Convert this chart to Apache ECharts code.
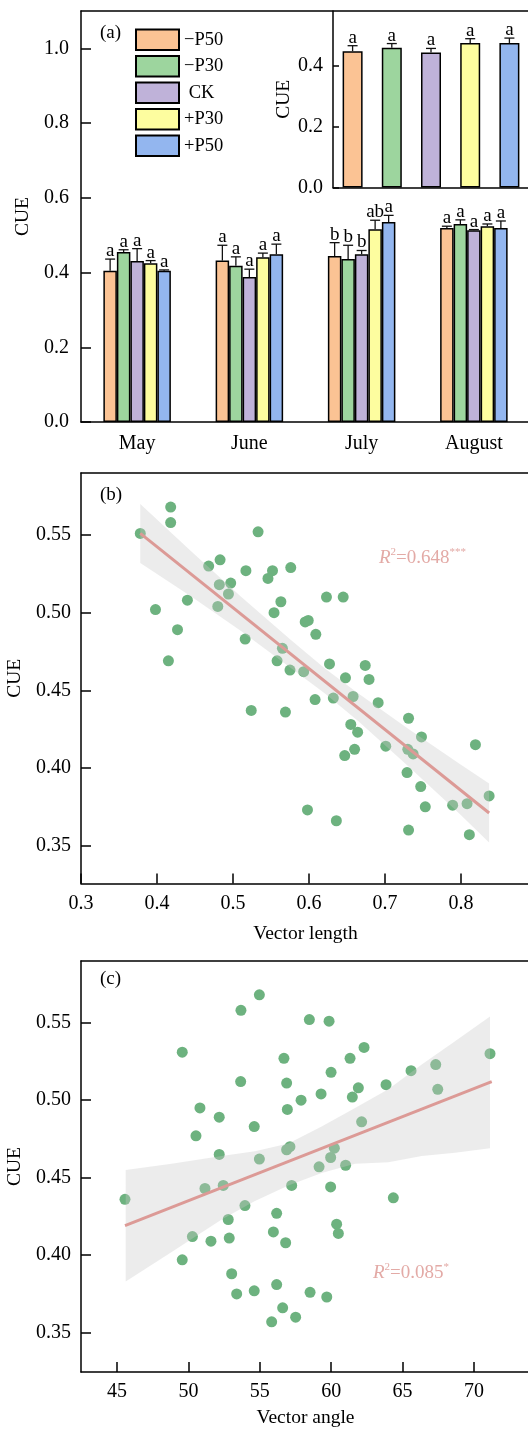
<!DOCTYPE html>
<html>
<head>
<meta charset="utf-8">
<title>CUE</title>
<script src="https://cdn.jsdelivr.net/npm/echarts@6.0.0/dist/echarts.min.js"></script>
<style>
    html, body { margin: 0; padding: 0; background: #fff; }
    #main { width: 528px; height: 1430px; }
</style>
</head>
<body>
<div id="main"></div>
<script>
// ---- panel (a): monthly CUE by treatment ----
var months = ['May', 'June', 'July', 'August'];
var treatments = ['\u2212P50', '\u2212P30', ' CK', '+P30', '+P50'];
var colors = ['#fbc394', '#9dd59e', '#bfb2d9', '#fdfd9f', '#93b6ef'];
// one row per treatment, one column per month
var cueMean = [
    [0.405, 0.432, 0.444, 0.519],
    [0.455, 0.418, 0.436, 0.530],
    [0.431, 0.388, 0.449, 0.513],
    [0.425, 0.441, 0.516, 0.524],
    [0.405, 0.449, 0.535, 0.519]
];
var cueSE = [
    [0.031, 0.041, 0.036, 0.005],
    [0.006, 0.024, 0.037, 0.011],
    [0.033, 0.021, 0.010, 0.002],
    [0.007, 0.011, 0.024, 0.006],
    [0.002, 0.027, 0.018, 0.019]
];
var letters = [
    ['a', 'a', 'b', 'a'],
    ['a', 'a', 'b', 'a'],
    ['a', 'a', 'b', 'a'],
    ['a', 'a', 'ab', 'a'],
    ['a', 'a', 'a', 'a']
];
var yTicksA = [0, 0.2, 0.4, 0.6, 0.8, 1.0];
// inset: whole season
var insetMean = [0.448, 0.459, 0.444, 0.475, 0.475];
var insetSE = [0.018, 0.014, 0.013, 0.014, 0.016];
var insetLetters = ['a', 'a', 'a', 'a', 'a'];
var yTicksInset = [0, 0.2, 0.4];

// ---- panel (b): CUE vs vector length ----
var lengthB = [0.378, 0.418, 0.418, 0.533, 0.468, 0.483, 0.517, 0.552, 0.546, 0.576,
    0.482, 0.497, 0.494, 0.440, 0.398, 0.480, 0.563, 0.554, 0.623, 0.645,
    0.427, 0.595, 0.599, 0.609, 0.516, 0.565, 0.415, 0.558, 0.575, 0.593,
    0.627, 0.648, 0.674, 0.679, 0.608, 0.632, 0.658, 0.691, 0.524, 0.569,
    0.731, 0.655, 0.664, 0.748, 0.701, 0.819, 0.730, 0.737, 0.660, 0.647,
    0.729, 0.747, 0.753, 0.789, 0.808, 0.837, 0.598, 0.636, 0.731, 0.811];
var cueB = [0.551, 0.568, 0.558, 0.552, 0.530, 0.534, 0.527, 0.527, 0.522, 0.529,
    0.518, 0.519, 0.512, 0.508, 0.502, 0.504, 0.507, 0.500, 0.510, 0.510,
    0.489, 0.494, 0.495, 0.486, 0.483, 0.477, 0.469, 0.469, 0.463, 0.462,
    0.467, 0.458, 0.466, 0.457, 0.444, 0.445, 0.446, 0.442, 0.437, 0.436,
    0.432, 0.428, 0.423, 0.420, 0.414, 0.415, 0.412, 0.409, 0.412, 0.408,
    0.397, 0.388, 0.375, 0.376, 0.377, 0.382, 0.373, 0.366, 0.360, 0.357];
var fitB = [[0.378, 0.551], [0.837, 0.371]];
var bandBx = [0.378, 0.446, 0.511, 0.577, 0.621, 0.665, 0.731, 0.797, 0.837];
var bandBlo = [0.532, 0.510, 0.488, 0.464, 0.448, 0.430, 0.401, 0.371, 0.352];
var bandBhi = [0.570, 0.539, 0.510, 0.482, 0.464, 0.448, 0.425, 0.403, 0.390];
var xTicksB = [0.3, 0.4, 0.5, 0.6, 0.7, 0.8];
var yTicksBC = [0.35, 0.40, 0.45, 0.50, 0.55];

// ---- panel (c): CUE vs vector angle ----
var angleC = [54.97, 53.68, 58.47, 59.85, 49.57, 56.69, 62.30, 61.32, 59.99, 71.12,
    67.32, 65.59, 67.46, 63.84, 61.90, 61.48, 59.29, 57.89, 56.88, 53.66,
    56.93, 50.81, 52.16, 54.61, 50.53, 62.13, 52.16, 54.97, 56.88, 57.11,
    60.22, 59.96, 59.15, 61.01, 51.16, 52.44, 57.23, 59.96, 45.56, 64.35,
    53.96, 56.18, 52.79, 60.38, 60.50, 55.95, 50.28, 51.58, 52.86, 56.81,
    49.57, 53.03, 53.38, 54.61, 56.18, 58.52, 59.69, 56.60, 57.51, 55.83];
var cueC = [0.568, 0.558, 0.552, 0.551, 0.531, 0.527, 0.534, 0.527, 0.518, 0.530,
    0.523, 0.519, 0.507, 0.510, 0.508, 0.502, 0.504, 0.500, 0.511, 0.512,
    0.494, 0.495, 0.489, 0.483, 0.477, 0.486, 0.465, 0.462, 0.468, 0.470,
    0.469, 0.463, 0.457, 0.458, 0.443, 0.445, 0.445, 0.444, 0.436, 0.437,
    0.432, 0.427, 0.423, 0.420, 0.414, 0.415, 0.412, 0.409, 0.411, 0.408,
    0.397, 0.388, 0.375, 0.377, 0.381, 0.376, 0.373, 0.366, 0.360, 0.357];
var fitC = [[45.56, 0.419], [71.24, 0.512]];
var bandCx = [45.61, 48.83, 52.33, 54.66, 57.00, 59.33, 61.67, 64.00, 66.34, 68.67, 71.12];
var bandClo = [0.383, 0.402, 0.423, 0.435, 0.445, 0.453, 0.459, 0.460, 0.464, 0.466, 0.469];
var bandChi = [0.455, 0.459, 0.464, 0.467, 0.472, 0.483, 0.495, 0.507, 0.523, 0.538, 0.554];
var xTicksC = [45, 50, 55, 60, 65, 70];

var F = '"Liberation Serif", "Times New Roman", serif';
var BW = 13.5;   // bar width panel (a)
var CAP = 5;
var PINK = '#e3aaa6';

var chart = echarts.init(document.getElementById('main'));

function axisBase(extra) {
    var o = {
        axisLine: { show: true, onZero: false, lineStyle: { color: '#000', width: 1.5 } },
        axisTick: { show: true, inside: true, length: 10, lineStyle: { color: '#000', width: 1.5 } },
        axisLabel: { color: '#000', fontFamily: F, fontSize: 20, margin: 10 },
        splitLine: { show: false },
        nameTextStyle: { color: '#000', fontFamily: F, fontSize: 19.5 }
    };
    for (var k in extra) o[k] = extra[k];
    return o;
}
function topLine(extra) {
    var o = {
        position: 'top',
        axisLine: { show: true, onZero: false, lineStyle: { color: '#000', width: 1.5 } },
        axisTick: { show: false }, axisLabel: { show: false }, splitLine: { show: false }
    };
    for (var k in extra) o[k] = extra[k];
    return o;
}
function fmt(d) { return function (v) { return v.toFixed(d); }; }

// error bar + letter for one bar
function errItem(x, b, c, txt) {
    return {
        type: 'group',
        children: [
            { type: 'line', shape: { x1: x, y1: b, x2: x, y2: c }, style: { stroke: '#111', lineWidth: 1.3 } },
            { type: 'line', shape: { x1: x - CAP, y1: c, x2: x + CAP, y2: c }, style: { stroke: '#111', lineWidth: 1.3 } },
            { type: 'text', x: x, y: c + 1.5, style: { text: txt, fill: '#000', font: '19px ' + F, align: 'center', verticalAlign: 'bottom' } }
        ]
    };
}
function makeErr(i) {
    return function (params, api) {
        var b = api.coord([api.value(0), api.value(1)]);
        var c = api.coord([api.value(0), api.value(2)]);
        return errItem(b[0] + (i - 2) * BW, b[1], c[1], letters[i][params.dataIndex]);
    };
}
function makeBand(xs, lo, hi) {
    return function (params, api) {
        if (params.dataIndex !== 0) return;
        var pts = [];
        for (var k = 0; k < xs.length; k++) pts.push(api.coord([xs[k], hi[k]]));
        for (var k = xs.length - 1; k >= 0; k--) pts.push(api.coord([xs[k], lo[k]]));
        return { type: 'polygon', shape: { points: pts }, style: { fill: 'rgba(200,200,200,0.35)' } };
    };
}

var series = [];
treatments.forEach(function (name, i) {
    series.push({
        type: 'bar', name: name, xAxisIndex: 0, yAxisIndex: 0,
        data: cueMean[i], barWidth: BW, barGap: '0%',
        itemStyle: { color: colors[i], borderColor: '#000', borderWidth: 1.5 }
    });
});
treatments.forEach(function (name, i) {
    series.push({
        type: 'custom', name: 'err' + i, xAxisIndex: 0, yAxisIndex: 0, z: 5, silent: true,
        encode: { x: 0, y: [1, 2] },
        data: months.map(function (m, j) { return [j, cueMean[i][j], cueMean[i][j] + cueSE[i][j]]; }),
        renderItem: makeErr(i)
    });
});
series.push({
    type: 'bar', name: 'inset', xAxisIndex: 2, yAxisIndex: 1, barWidth: 20,
    data: insetMean.map(function (v, i) { return { value: v, itemStyle: { color: colors[i] } }; }),
    itemStyle: { borderColor: '#000', borderWidth: 1.5 }
});
series.push({
    type: 'custom', name: 'insetErr', xAxisIndex: 2, yAxisIndex: 1, z: 5, silent: true,
    encode: { x: 0, y: [1, 2] },
    data: insetMean.map(function (v, i) { return [i, v, v + insetSE[i]]; }),
    renderItem: function (params, api) {
        var b = api.coord([api.value(0), api.value(1)]);
        var c = api.coord([api.value(0), api.value(2)]);
        return errItem(b[0], b[1], c[1], insetLetters[params.dataIndex]);
    }
});

// panel (b)
series.push({
    type: 'scatter', xAxisIndex: 3, yAxisIndex: 2, z: 2, symbolSize: 11,
    itemStyle: { color: '#6db27f', opacity: 1 },
    data: lengthB.map(function (x, k) { return [x, cueB[k]]; })
});
series.push({
    type: 'custom', xAxisIndex: 3, yAxisIndex: 2, z: 3, silent: true, clip: true,
    data: bandBx.map(function (x, k) { return [x, bandBlo[k], bandBhi[k]]; }),
    renderItem: makeBand(bandBx, bandBlo, bandBhi)
});
series.push({
    type: 'line', xAxisIndex: 3, yAxisIndex: 2, z: 4, symbol: 'none', silent: true,
    lineStyle: { color: '#dc9a96', width: 3 }, data: fitB
});

// panel (c)
series.push({
    type: 'scatter', xAxisIndex: 5, yAxisIndex: 3, z: 2, symbolSize: 11,
    itemStyle: { color: '#6db27f', opacity: 1 },
    data: angleC.map(function (x, k) { return [x, cueC[k]]; })
});
series.push({
    type: 'custom', xAxisIndex: 5, yAxisIndex: 3, z: 3, silent: true, clip: true,
    data: bandCx.map(function (x, k) { return [x, bandClo[k], bandChi[k]]; }),
    renderItem: makeBand(bandCx, bandClo, bandChi)
});
series.push({
    type: 'line', xAxisIndex: 5, yAxisIndex: 3, z: 4, symbol: 'none', silent: true,
    lineStyle: { color: '#dc9a96', width: 3 }, data: fitC
});

// R2 annotations, zrender rich text uses fill
var rich = {
    r: { fontFamily: F, fontSize: 19, fontStyle: 'italic', fill: PINK, lineHeight: 22 },
    s: { fontFamily: F, fontSize: 11, fill: PINK, verticalAlign: 'top', lineHeight: 22 },
    t: { fontFamily: F, fontSize: 19, fill: PINK, lineHeight: 22 }
};

var option = {
    animation: false,
    backgroundColor: '#fff',
    grid: [
        { left: 81, top: 11, width: 449, height: 411, outerBoundsMode: 'none' },
        { left: 333, top: 11, width: 196, height: 176.5, outerBoundsMode: 'none' },
        { left: 81, top: 473, width: 449, height: 410.5, outerBoundsMode: 'none' },
        { left: 81, top: 961, width: 449, height: 411, outerBoundsMode: 'none' }
    ],
    legend: {
        data: treatments, orient: 'vertical', left: 135, top: 28.5, padding: 0,
        itemWidth: 43, itemHeight: 20.5, itemGap: 4, icon: 'rect', selectedMode: false,
        textStyle: { color: '#000', fontFamily: F, fontSize: 18.5, lineHeight: 20 }
    },
    xAxis: [
        axisBase({ type: 'category', gridIndex: 0, data: months, axisTick: { show: false },
            axisLabel: { color: '#000', fontFamily: F, fontSize: 20, margin: 12 } }),
        topLine({ type: 'category', gridIndex: 0, data: months }),
        axisBase({ type: 'category', gridIndex: 1, data: treatments, axisTick: { show: false }, axisLabel: { show: false } }),
        axisBase({ type: 'value', gridIndex: 2, min: 0.3, max: 0.8908, name: 'Vector length',
            nameLocation: 'middle', nameGap: 40,
            axisLabel: { color: '#000', fontFamily: F, fontSize: 20, margin: 10, customValues: xTicksB, formatter: fmt(1) },
            axisTick: { show: true, inside: true, length: 10, customValues: xTicksB, lineStyle: { color: '#000', width: 1.5 } } }),
        topLine({ type: 'value', gridIndex: 2, min: 0.3, max: 0.8908 }),
        axisBase({ type: 'value', gridIndex: 3, min: 42.48, max: 73.92, name: 'Vector angle',
            nameLocation: 'middle', nameGap: 36,
            axisLabel: { color: '#000', fontFamily: F, fontSize: 20, margin: 10, customValues: xTicksC, formatter: fmt(0) },
            axisTick: { show: true, inside: true, length: 10, customValues: xTicksC, lineStyle: { color: '#000', width: 1.5 } } }),
        topLine({ type: 'value', gridIndex: 3, min: 42.48, max: 73.92 })
    ],
    yAxis: [
        axisBase({ type: 'value', gridIndex: 0, min: 0, max: 1.1, name: 'CUE', nameLocation: 'middle', nameGap: 45,
            axisLabel: { color: '#000', fontFamily: F, fontSize: 20, margin: 12, customValues: yTicksA, formatter: fmt(1) },
            axisTick: { show: true, inside: true, length: 10, customValues: yTicksA, lineStyle: { color: '#000', width: 1.5 } } }),
        axisBase({ type: 'value', gridIndex: 1, min: 0, max: 0.58, name: 'CUE', nameLocation: 'middle', nameGap: 34,
            axisLabel: { color: '#000', fontFamily: F, fontSize: 20, margin: 10, customValues: yTicksInset, formatter: fmt(1) },
            axisTick: { show: true, inside: true, length: 6, customValues: yTicksInset, lineStyle: { color: '#000', width: 1.5 } } }),
        axisBase({ type: 'value', gridIndex: 2, min: 0.3256, max: 0.5899, name: 'CUE', nameLocation: 'middle', nameGap: 53,
            axisLabel: { color: '#000', fontFamily: F, fontSize: 20, margin: 10, customValues: yTicksBC, formatter: fmt(2) },
            axisTick: { show: true, inside: true, length: 10, customValues: yTicksBC, lineStyle: { color: '#000', width: 1.5 } } }),
        axisBase({ type: 'value', gridIndex: 3, min: 0.3246, max: 0.5898, name: 'CUE', nameLocation: 'middle', nameGap: 53,
            axisLabel: { color: '#000', fontFamily: F, fontSize: 20, margin: 10, customValues: yTicksBC, formatter: fmt(2) },
            axisTick: { show: true, inside: true, length: 10, customValues: yTicksBC, lineStyle: { color: '#000', width: 1.5 } } })
    ],
    graphic: [
        { type: 'text', left: 100, top: 24, style: { text: '(a)', fill: '#000', font: '19px ' + F } },
        { type: 'text', left: 100, top: 486, style: { text: '(b)', fill: '#000', font: '19px ' + F } },
        { type: 'text', left: 100, top: 970, style: { text: '(c)', fill: '#000', font: '19px ' + F } },
        { type: 'text', left: 379, top: 547, style: { text: '{r|R}{s|2}{t|=0.648}{s|***}', rich: rich, fill: PINK } },
        { type: 'text', left: 373, top: 1262, style: { text: '{r|R}{s|2}{t|=0.085}{s|*}', rich: rich, fill: PINK } }
    ],
    series: series
};
chart.setOption(option);
</script>
</body>
</html>
